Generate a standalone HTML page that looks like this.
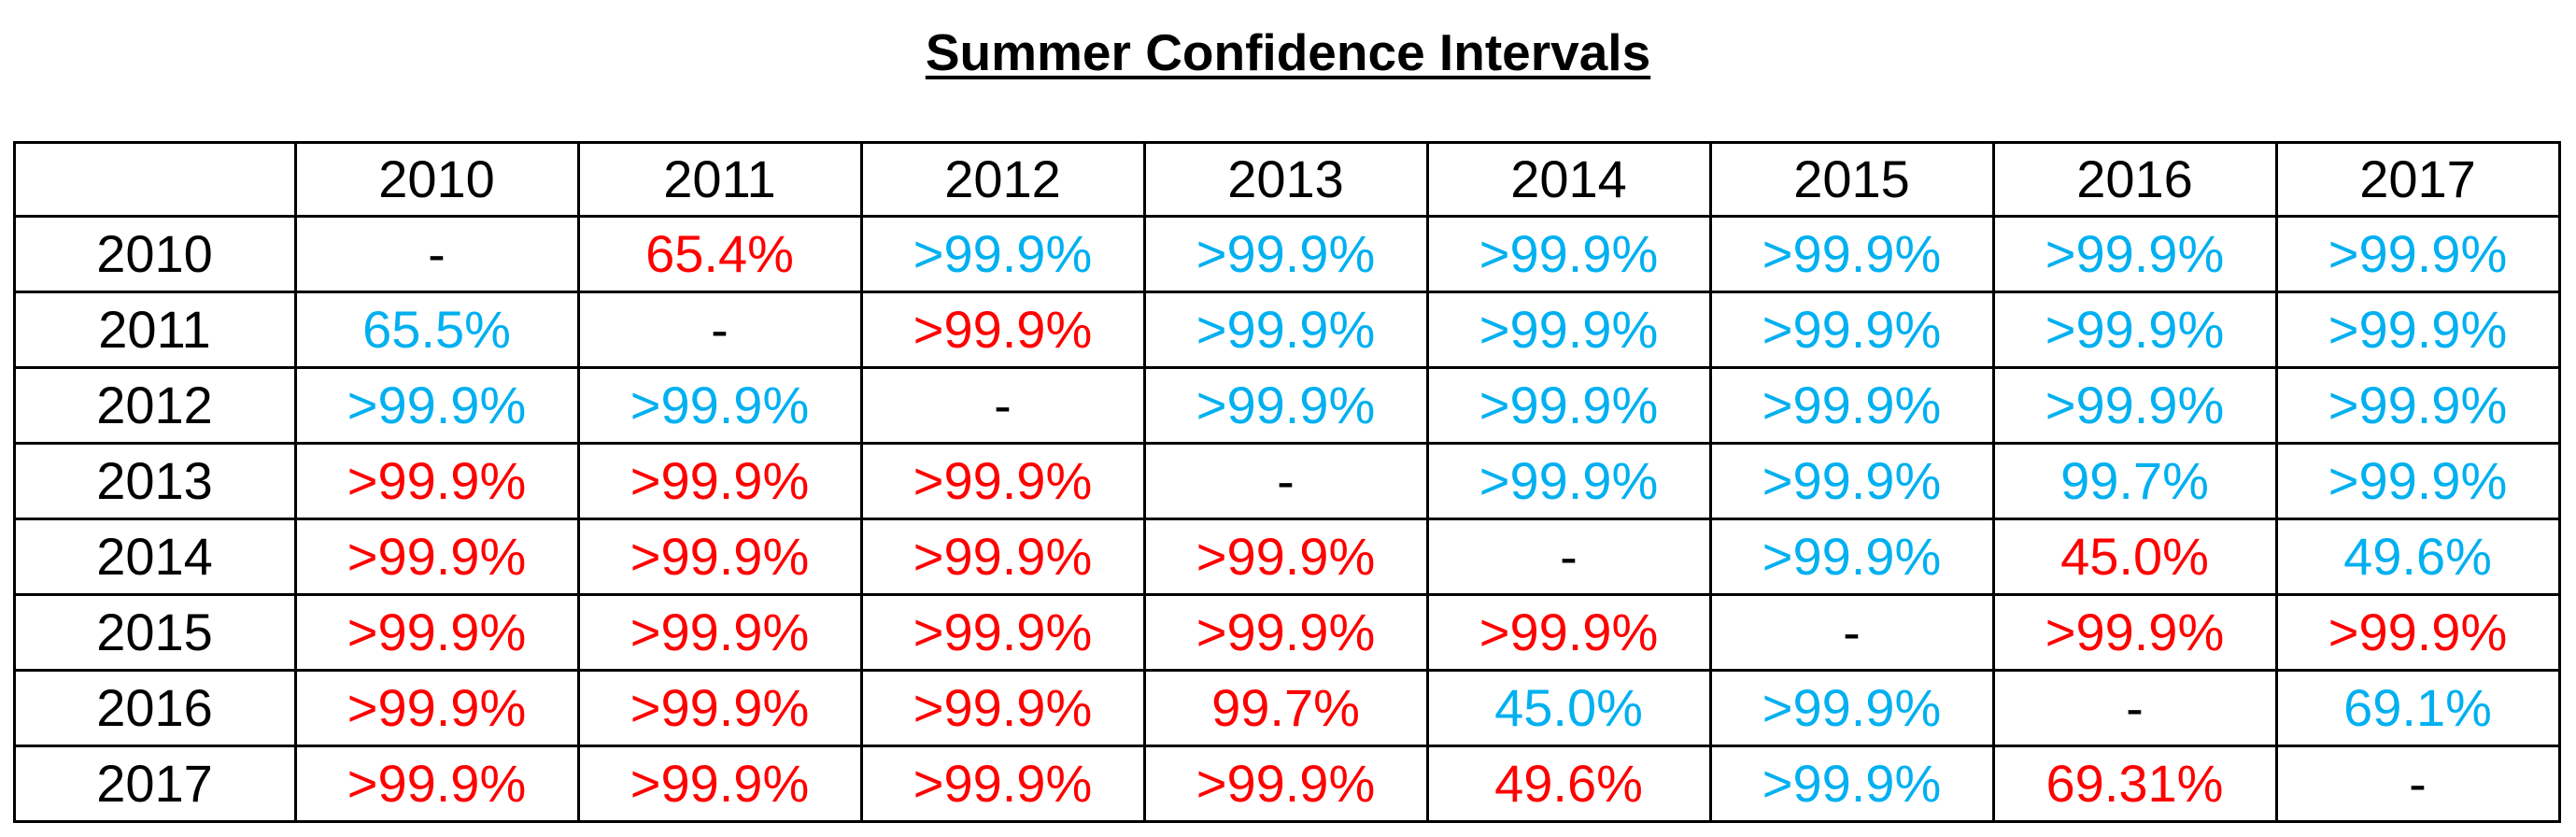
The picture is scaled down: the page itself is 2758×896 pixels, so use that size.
<!DOCTYPE html>
<html><head><meta charset="utf-8"><style>
body{margin:0;width:2758px;height:896px;background:#fff;position:relative;overflow:hidden;font-family:"Liberation Sans",sans-serif;}
#title{position:absolute;left:0;width:2758px;top:24px;text-align:center;font-weight:bold;font-size:55px;text-decoration:underline;text-decoration-thickness:4px;text-underline-offset:6px;}
.cell{position:absolute;display:flex;align-items:center;justify-content:center;font-size:56px;box-sizing:border-box;}
.line{position:absolute;background:#000;}
</style></head><body>
<div id="title">Summer Confidence Intervals</div>
<div id="tbl"></div>
<script>
const years=["2010","2011","2012","2013","2014","2015","2016","2017"];
const values=[
["-","65.4%",">99.9%",">99.9%",">99.9%",">99.9%",">99.9%",">99.9%"],
["65.5%","-",">99.9%",">99.9%",">99.9%",">99.9%",">99.9%",">99.9%"],
[">99.9%",">99.9%","-",">99.9%",">99.9%",">99.9%",">99.9%",">99.9%"],
[">99.9%",">99.9%",">99.9%","-",">99.9%",">99.9%","99.7%",">99.9%"],
[">99.9%",">99.9%",">99.9%",">99.9%","-",">99.9%","45.0%","49.6%"],
[">99.9%",">99.9%",">99.9%",">99.9%",">99.9%","-",">99.9%",">99.9%"],
[">99.9%",">99.9%",">99.9%","99.7%","45.0%",">99.9%","-","69.1%"],
[">99.9%",">99.9%",">99.9%",">99.9%","49.6%",">99.9%","69.31%","-"]];
const colorCodes=[
"kRBBBBBB","BkRBBBBB","BBkBBBBB","RRRkBBBB","RRRRkBRB","RRRRRkRR","RRRRBBkB","RRRRRBRk"];
const cmap={k:"#000",R:"#ff0000",B:"#00b0f0"};
const T=document.getElementById('tbl');
const L=15,C0=316,CW=303,TOP=152,H0=231,RH=81;
const colX=i=>i<0?L:C0+i*CW;
const rowY=j=>j<0?TOP:H0+j*RH;
function cell(x,y,w,h,txt,col,name){
  const d=document.createElement('div');d.className='cell';
  d.style.cssText=`left:${x}px;top:${y}px;width:${w}px;height:${h}px;color:${col}`;
  d.textContent=txt;
  
  
  T.appendChild(d);
}
years.forEach((y,i)=>cell(colX(i),TOP,CW,H0-TOP,y,"#000","column-header-"+y));
years.forEach((y,j)=>cell(L,rowY(j),C0-L,RH,y,"#000","row-header-"+y));
values.forEach((row,j)=>row.forEach((v,i)=>cell(colX(i),rowY(j),CW,RH,v,cmap[colorCodes[j][i]],"cell-"+years[j]+"-"+years[i])));
function line(x,y,w,h,name){
  const d=document.createElement('div');d.className='line';
  d.style.cssText=`left:${x}px;top:${y}px;width:${w}px;height:${h}px`;
  
  
  T.appendChild(d);
}
const R=colX(years.length),B=rowY(years.length);
for(let j=-1;j<=years.length;j++){line(L-1,rowY(j)-1,R-L+3,3,'row-border');}
for(let i=-1;i<=years.length;i++){line(colX(i)-1,TOP-1,3,B-TOP+3,'column-border');}
</script>
</body></html>
